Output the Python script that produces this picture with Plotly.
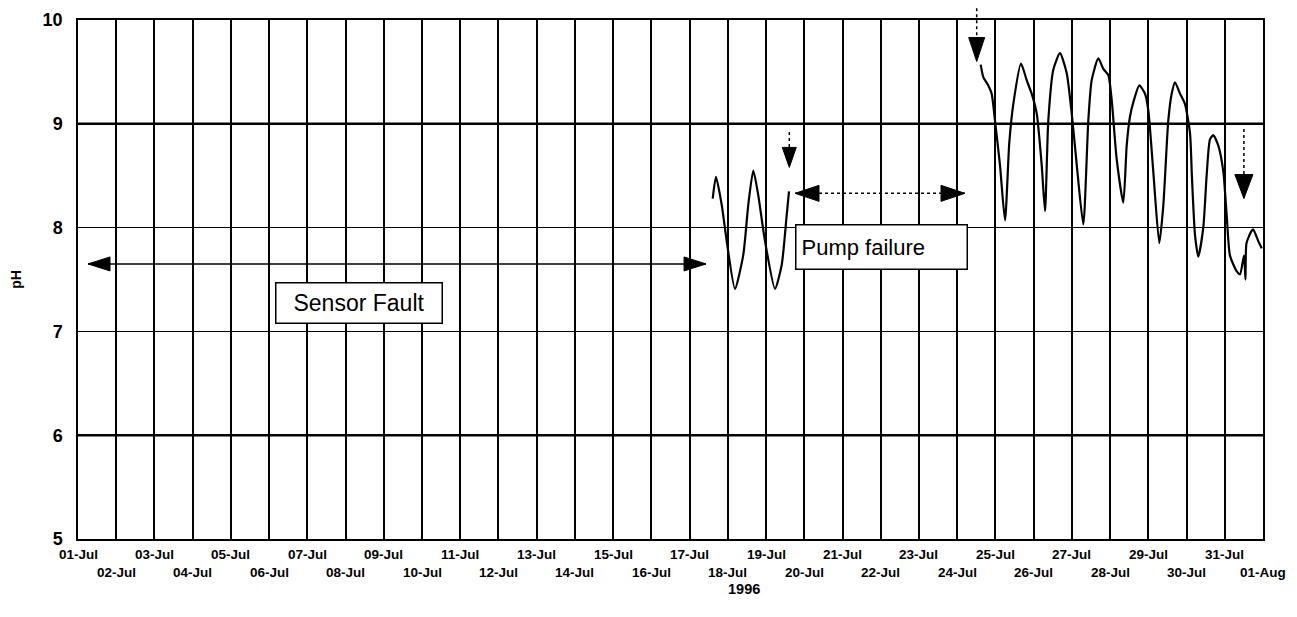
import plotly.graph_objects as go
from datetime import datetime, timedelta

# ---------------- data ----------------
seg1_time = ["1996-07-17 14:30", "1996-07-17 16:34", "1996-07-17 20:09", "1996-07-17 23:17",
             "1996-07-18 04:29", "1996-07-18 09:43", "1996-07-18 12:50", "1996-07-18 15:59",
             "1996-07-18 19:07", "1996-07-18 23:20", "1996-07-19 05:37", "1996-07-19 09:49",
             "1996-07-19 12:57", "1996-07-19 14:24"]
seg1_ph = [8.28, 8.49, 8.22, 7.87, 7.41, 7.74, 8.22, 8.55, 8.31, 7.87, 7.41, 7.64, 8.12, 8.35]

seg2_time = ["1996-07-24 14:45", "1996-07-24 16:24", "1996-07-24 19:32", "1996-07-24 21:39",
             "1996-07-24 23:44", "1996-07-25 02:53", "1996-07-25 06:01", "1996-07-25 08:43",
             "1996-07-25 11:14", "1996-07-25 16:03", "1996-07-25 19:38", "1996-07-25 22:46",
             "1996-07-26 01:55", "1996-07-26 05:04", "1996-07-26 07:08", "1996-07-26 09:12",
             "1996-07-26 12:20", "1996-07-26 16:32", "1996-07-26 20:45", "1996-07-26 23:54",
             "1996-07-27 03:02", "1996-07-27 07:10", "1996-07-27 10:19", "1996-07-27 12:26",
             "1996-07-27 16:36", "1996-07-27 19:44", "1996-07-27 22:52", "1996-07-28 01:00",
             "1996-07-28 04:08", "1996-07-28 08:17", "1996-07-28 10:25", "1996-07-28 12:30",
             "1996-07-28 15:00", "1996-07-28 18:20", "1996-07-28 21:55", "1996-07-29 00:00",
             "1996-07-29 03:07", "1996-07-29 06:53", "1996-07-29 09:24", "1996-07-29 12:32",
             "1996-07-29 14:40", "1996-07-29 16:44", "1996-07-29 19:54", "1996-07-29 23:01",
             "1996-07-30 02:10", "1996-07-30 03:24", "1996-07-30 05:18", "1996-07-30 07:22",
             "1996-07-30 10:30", "1996-07-30 12:39", "1996-07-30 14:43", "1996-07-30 16:48",
             "1996-07-30 19:56", "1996-07-30 23:05", "1996-07-31 01:12", "1996-07-31 03:16",
             "1996-07-31 07:28", "1996-07-31 09:33", "1996-07-31 12:04", "1996-07-31 13:00",
             "1996-07-31 13:38", "1996-07-31 16:54", "1996-07-31 17:54", "1996-07-31 21:03",
             "1996-07-31 23:11"]
seg2_ph = [9.57, 9.45, 9.37, 9.29, 9.03, 8.60, 8.07, 8.82, 9.19, 9.58, 9.42, 9.29,
           9.10, 8.60, 8.16, 9.03, 9.52, 9.68, 9.49, 9.10, 8.61, 8.03, 9.03, 9.42,
           9.63, 9.53, 9.47, 9.23, 8.66, 8.24, 8.79, 9.07, 9.23, 9.37, 9.29, 9.13,
           8.54, 7.85, 8.21, 9.03, 9.29, 9.40, 9.29, 9.19, 8.91, 8.48, 7.93, 7.72,
           8.00, 8.51, 8.85, 8.89, 8.79, 8.54, 8.12, 7.73, 7.58, 7.55, 7.73, 7.50,
           7.85, 7.97, 7.98, 7.87, 7.80]

x_tick_labels = ["01-Jul", "02-Jul", "03-Jul", "04-Jul", "05-Jul", "06-Jul", "07-Jul", "08-Jul",
                 "09-Jul", "10-Jul", "11-Jul", "12-Jul", "13-Jul", "14-Jul", "15-Jul", "16-Jul",
                 "17-Jul", "18-Jul", "19-Jul", "20-Jul", "21-Jul", "22-Jul", "23-Jul", "24-Jul",
                 "25-Jul", "26-Jul", "27-Jul", "28-Jul", "29-Jul", "30-Jul", "31-Jul", "01-Aug"]
y_tick_values = [5, 6, 7, 8, 9, 10]

# ---------------- figure ----------------
FONT = "Liberation Sans, Arial, sans-serif"
start = datetime(1996, 7, 1)
tick_dates = [start + timedelta(days=i) for i in range(len(x_tick_labels))]

fig = go.Figure()
fig.add_trace(go.Scatter(x=seg1_time + [None] + seg2_time,
                         y=seg1_ph + [None] + seg2_ph,
                         mode="lines", connectgaps=False,
                         line=dict(color="black", width=2.2, shape="spline", smoothing=0.6),
                         showlegend=False, name="pH"))

# page body has an 8px margin, so the figure is 16px smaller than the window
fig.update_layout(
    width=1281, height=601,
    margin=dict(l=70, r=26, t=12, b=70),
    paper_bgcolor="white", plot_bgcolor="white",
    font=dict(family=FONT, color="black"),
    xaxis=dict(range=[tick_dates[0], tick_dates[-1]], type="date", automargin=False,
               tickvals=tick_dates, showticklabels=False, ticks="",
               showgrid=True, gridcolor="black", gridwidth=1.5,
               showline=True, linecolor="black", linewidth=1.5, mirror=True, zeroline=False),
    yaxis=dict(range=[5, 10], tickvals=y_tick_values, automargin=False,
               ticktext=[str(v) for v in y_tick_values],
               tickfont=dict(size=18, family=FONT, weight="bold"),
               ticks="outside", ticklen=10, tickcolor="rgba(0,0,0,0)",
               showgrid=True, gridcolor="black", gridwidth=1.4,
               showline=True, linecolor="black", linewidth=1.5, mirror=True, zeroline=False,
               title=dict(text="pH", font=dict(size=14, weight="bold"), standoff=18)),
)

# thicker horizontal rules at 9 and 6 (as in the scan)
for v in (9, 6):
    fig.add_shape(type="line", xref="paper", yref="y", x0=0, x1=1, y0=v, y1=v,
                  line=dict(color="black", width=2.6), layer="above")

# x tick labels (two staggered rows)
for i, (d, lab) in enumerate(zip(tick_dates, x_tick_labels)):
    fig.add_annotation(x=d, y=0, xref="x", yref="paper", text=lab, showarrow=False,
                       yanchor="middle", yshift=-15 if i % 2 == 0 else -33,
                       font=dict(size=13.5, family=FONT, weight="bold"))
fig.add_annotation(x="1996-07-18 10:00", y=0, xref="x", yref="paper", text="1996",
                   showarrow=False, yanchor="middle", yshift=-50,
                   font=dict(size=14.5, family=FONT, weight="bold"))

# text boxes
fig.add_annotation(x="1996-07-08 08:07", y=7.27, xref="x", yref="y", text="Sensor Fault",
                   showarrow=False, width=155, height=29, borderpad=5, bgcolor="white",
                   bordercolor="black", borderwidth=1.5, font=dict(size=23, family=FONT))
fig.add_annotation(x="1996-07-22 00:46", y=7.81, xref="x", yref="y", text="Pump failure",
                   showarrow=False, width=160, height=33, borderpad=5, align="left",
                   bgcolor="white", bordercolor="black", borderwidth=1.5,
                   font=dict(size=22, family=FONT))


def head(xd, yv, direction, length, width):
    h = width / 2
    if direction == "down":
        path = f"M 0,0 L {-h},{length} L {h},{length} Z"
    elif direction == "left":
        path = f"M 0,0 L {length},{h} L {length},{-h} Z"
    else:
        path = f"M 0,0 L {-length},{h} L {-length},{-h} Z"
    fig.add_shape(type="path", xref="x", yref="y", xsizemode="pixel", ysizemode="pixel",
                  xanchor=xd, yanchor=yv, path=path, fillcolor="black",
                  line=dict(color="black", width=1), layer="above")


# Sensor Fault double arrow
sf_l, sf_r, sf_y = "1996-07-01 06:17", "1996-07-17 10:19", 7.65
fig.add_shape(type="line", xref="x", yref="y", x0=sf_l, x1=sf_r, y0=sf_y, y1=sf_y,
              line=dict(color="black", width=1.5), layer="above")
head(sf_l, sf_y, "left", 22, 14)
head(sf_r, sf_y, "right", 22, 14)

# Pump failure double arrow
pf_l, pf_r, pf_y = "1996-07-19 18:10", "1996-07-24 04:54", 8.33
fig.add_shape(type="line", xref="x", yref="y", x0=pf_l, x1=pf_r, y0=pf_y, y1=pf_y,
              line=dict(color="black", width=1.5, dash="dot"), layer="above")
head(pf_l, pf_y, "left", 24, 16)
head(pf_r, pf_y, "right", 24, 16)

# dotted downward arrows
down_arrows = [("1996-07-19 14:35", 8.92, 8.58, 20, 14),
               ("1996-07-24 12:15", 10.17, 9.60, 24, 16),
               ("1996-07-31 12:00", 8.95, 8.28, 24, 18)]
for xd, ytop, ytip, ln, wd in down_arrows:
    fig.add_shape(type="line", xref="x", yref="paper", x0=xd, x1=xd,
                  y0=(ytop - 5) / 5, y1=(ytip - 5) / 5,
                  line=dict(color="black", width=1.5, dash="dot"), layer="above")
    head(xd, ytip, "down", ln, wd)

fig.write_html("out.html")
